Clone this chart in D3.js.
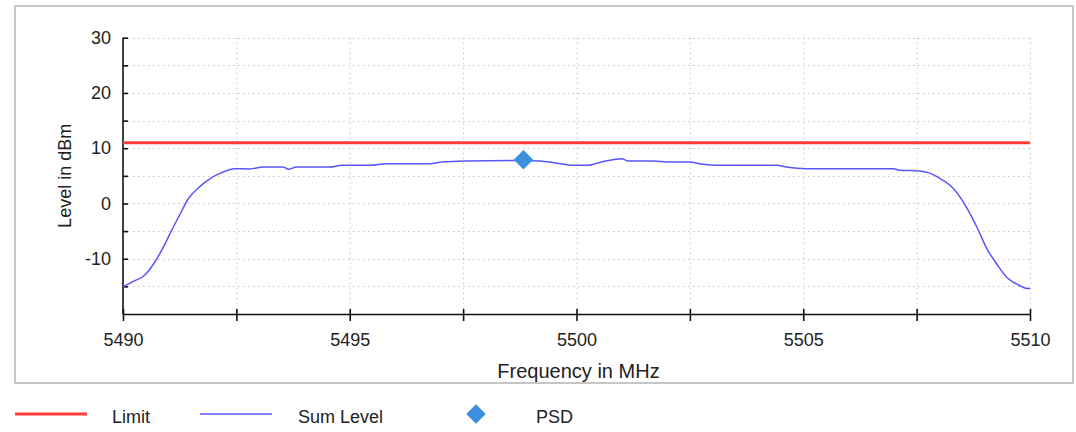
<!DOCTYPE html>
<html><head><meta charset="utf-8">
<script src="https://cdn.jsdelivr.net/npm/d3@7"></script>
<style>
body{margin:0;background:#fff}
svg{display:block;font-family:"Liberation Sans",Arial,sans-serif}
</style>
</head><body>
<svg id="c" width="1076" height="432"></svg>
<script>
// ---- data ----
const sumFreq = [5490.0,5490.23,5490.49,5490.67,5490.89,5491.07,5491.26,5491.44,5491.70,5491.92,5492.10,5492.47,5492.80,5493.09,5493.53,5493.65,5493.83,5494.56,5494.82,5495.45,5495.81,5496.77,5497.03,5497.58,5498.68,5499.19,5499.56,5499.93,5500.22,5500.59,5501.00,5501.14,5501.69,5502.06,5502.50,5502.72,5503.16,5504.41,5504.63,5505.07,5506.99,5507.13,5507.57,5507.79,5508.02,5508.31,5508.60,5508.83,5509.05,5509.27,5509.49,5509.71,5509.96,5510.0];
const sumLevel = [-15.1,-14.1,-12.9,-11.0,-7.9,-4.9,-1.9,0.85,3.1,4.5,5.3,6.3,6.25,6.6,6.6,6.2,6.6,6.6,6.9,6.9,7.2,7.2,7.5,7.7,7.8,7.7,7.3,6.9,6.9,7.6,8.1,7.7,7.7,7.5,7.5,7.2,6.9,6.9,6.6,6.3,6.3,6.0,5.9,5.5,4.5,2.7,-0.7,-4.3,-8.2,-11.0,-13.4,-14.6,-15.4,-15.4];
const limitFreq = [5490, 5510];
const limitLevel = [11, 11];
const psdFreq = [5498.83];
const psdLevel = [7.9];
const xTicks = [5490,5492.5,5495,5497.5,5500,5502.5,5505,5507.5,5510];
const xTickLabels = ["5490","","5495","","5500","","5505","","5510"];
const yTicks = [-15,-10,-5,0,5,10,15,20,25,30];
const yTickLabels = ["","-10","","0","","10","","20","","30"];
const xTitle = "Frequency in MHz";
const yTitle = "Level in dBm";
const legendNames = ["Limit","Sum Level","PSD"];

// ---- drawing ----
const svg = d3.select("#c");
const x = d3.scaleLinear().domain([5490,5510]).range([123,1030]);
const y = d3.scaleLinear().domain([-20,30]).range([314,37.7]);

svg.append("rect").attr("x",15).attr("y",6).attr("width",1058).attr("height",377)
  .attr("fill","#fff").attr("stroke","#c6c6c6").attr("stroke-width",2);

// grid
const grid = svg.append("g").attr("stroke","#c4c4c4").attr("stroke-width",1).attr("stroke-dasharray","1.5,3.5");
grid.selectAll(".gx").data(xTicks.slice(1)).join("line")
  .attr("x1",d=>x(d)+0.5).attr("x2",d=>x(d)+0.5).attr("y1",y(30)).attr("y2",y(-20));
grid.selectAll(".gy").data(yTicks).join("line")
  .attr("x1",x(5490)).attr("x2",x(5510)).attr("y1",d=>Math.round(y(d))+0.5).attr("y2",d=>Math.round(y(d))+0.5);

// axes
const xAxis = d3.axisBottom(x).tickValues(xTicks).tickSizeInner(7).tickSizeOuter(0).tickPadding(12)
  .tickFormat((d,i)=>xTickLabels[i]);
const gx = svg.append("g").attr("transform",`translate(0,${y(-20)})`).call(xAxis);
gx.select(".domain").attr("stroke","#111").attr("stroke-width",1.6);
gx.selectAll(".tick line").attr("stroke","#111").attr("stroke-width",1.6).attr("y1",-5);
gx.selectAll("text").attr("font-size",18).attr("fill","#222").attr("font-family",null);

const yAxis = d3.axisLeft(y).tickValues(yTicks).tickSizeInner(5).tickSizeOuter(0).tickPadding(7)
  .tickFormat((d,i)=>yTickLabels[i]);
const gy = svg.append("g").attr("transform",`translate(${x(5490)},0)`).call(yAxis);
gy.select(".domain").attr("stroke","#111").attr("stroke-width",1.6).attr("d",`M0,${y(30)}V${y(-20)}`);
gy.selectAll(".tick line").attr("stroke","#111").attr("stroke-width",1.6).attr("x2",5);
gy.selectAll("text").attr("font-size",18).attr("fill","#222").attr("font-family",null);
svg.selectAll(".tick, .domain").attr("font-family",null);
gx.attr("font-family",null); gy.attr("font-family",null);

// titles
svg.append("text").attr("x",(x(5490)+x(5510))/2+2).attr("y",378).attr("text-anchor","middle")
  .attr("font-size",20).attr("fill","#222").text(xTitle);
svg.append("text").attr("transform",`translate(71,${(y(30)+y(-20))/2}) rotate(-90)`).attr("text-anchor","middle")
  .attr("font-size",18).attr("fill","#222").text(yTitle);

// limit
const line = d3.line().x(d=>x(d[0])).y(d=>y(d[1]));
svg.append("path").datum(d3.zip(limitFreq,limitLevel)).attr("d",line)
  .attr("fill","none").attr("stroke","#ff3c3c").attr("stroke-width",3);
// sum level
svg.append("path").datum(d3.zip(sumFreq,sumLevel)).attr("d",line.curve(d3.curveMonotoneX))
  .attr("fill","none").attr("stroke","#5a55ff").attr("stroke-width",1.5);
// psd
const diamond = d3.symbol().type(d3.symbolSquare).size(190);
svg.selectAll(".psd").data(d3.zip(psdFreq,psdLevel)).join("path")
  .attr("d",diamond).attr("transform",d=>`translate(${x(d[0])},${y(d[1])}) rotate(45)`)
  .attr("fill","#3b8fdc");

// legend
const lg = svg.append("g").attr("font-size",18).attr("fill","#222");
lg.append("line").attr("x1",15).attr("x2",87).attr("y1",414).attr("y2",414).attr("stroke","#ff3c3c").attr("stroke-width",3);
lg.append("text").attr("x",112).attr("y",423).text(legendNames[0]);
lg.append("line").attr("x1",200).attr("x2",272).attr("y1",414).attr("y2",414).attr("stroke","#5a55ff").attr("stroke-width",1.5);
lg.append("text").attr("x",298).attr("y",423).text(legendNames[1]);
lg.append("path").attr("d",diamond).attr("transform","translate(476,414) rotate(45)").attr("fill","#3b8fdc");
lg.append("text").attr("x",536).attr("y",423).text(legendNames[2]);
</script>
</body></html>
